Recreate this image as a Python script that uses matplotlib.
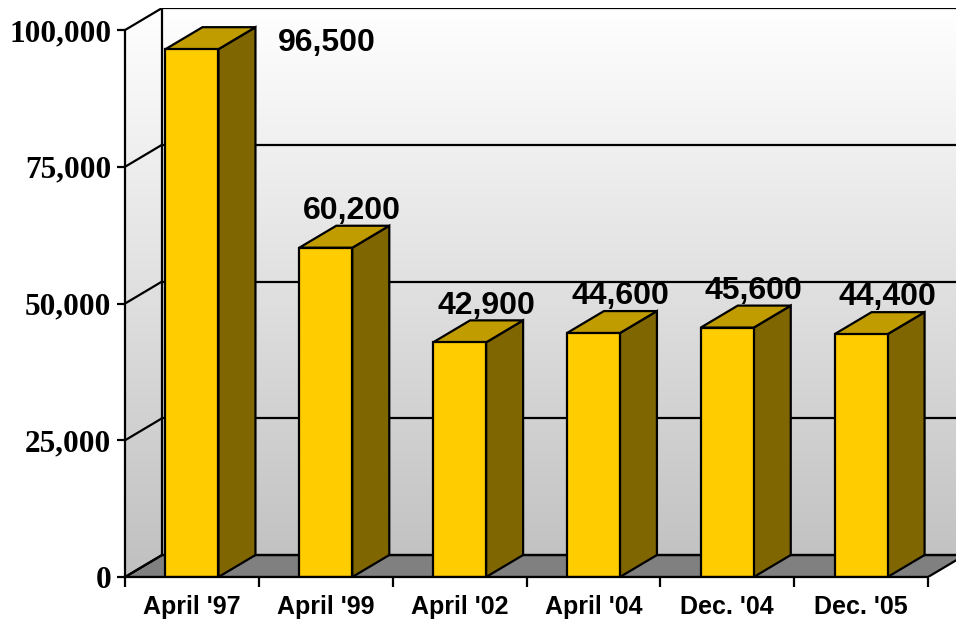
import numpy as np
import matplotlib.pyplot as plt
from matplotlib.patches import Polygon, Rectangle
from matplotlib.colors import LinearSegmentedColormap
from matplotlib.ticker import FuncFormatter

categories = ["April '97", "April '99", "April '02", "April '04", "Dec. '04", "Dec. '05"]
values = [96500, 60200, 42900, 44600, 45600, 44400]
y_ticks = [0, 25000, 50000, 75000, 100000]

# fake 3d: depth offset in data units
dx = 0.2765
dy = 4022
bar_w = 0.396
y_max = 100000
x_max = 6.21
lw = 1.6

fig = plt.figure(figsize=(9.56, 6.23), dpi=100)
ax = fig.add_axes([0.1308, 0.0738, 0.8693, 0.9133])
ax.set_xlim(0, x_max)
ax.set_ylim(0, y_max + dy)

# gradient walls (back + left)
cmap = LinearSegmentedColormap.from_list('wall', ['#c0c0c0', '#ffffff'])
grad = np.linspace(0, 1, 256).reshape(-1, 1)
img = ax.imshow(grad, extent=[0, x_max, 0, y_max + dy], origin='lower',
                aspect='auto', cmap=cmap, zorder=0)
wall = Polygon([(0, 0), (dx, dy), (x_max + 1, dy), (x_max + 1, y_max + dy),
                (dx, y_max + dy), (0, y_max)], closed=True, facecolor='none',
               edgecolor='none', transform=ax.transData)
ax.add_patch(wall)
img.set_clip_path(wall)

# floor
n = len(categories)
floor = Polygon([(0, 0), (n, 0), (n + dx, dy), (x_max + 1, dy), (x_max + 1, dy),
                 (dx, dy)], closed=True, facecolor='#808080', edgecolor='black',
                lw=lw, zorder=1, clip_on=True)
ax.add_patch(floor)

# gridlines on walls
for v in y_ticks:
    ax.plot([0, dx], [v, v + dy], color='black', lw=lw, zorder=1)
    ax.plot([dx, x_max], [v + dy, v + dy], color='black', lw=lw, zorder=1)
ax.plot([dx, dx], [dy, y_max + dy], color='black', lw=lw, zorder=1)

# bars
for i, v in enumerate(values):
    c = i + 0.5
    x0, x1 = c - bar_w / 2, c + bar_w / 2
    side = Polygon([(x1, 0), (x1 + dx, dy), (x1 + dx, v + dy), (x1, v)],
                   facecolor='#806600', edgecolor='black', lw=lw, zorder=3)
    top = Polygon([(x0, v), (x1, v), (x1 + dx, v + dy), (x0 + dx, v + dy)],
                  facecolor='#c09c00', edgecolor='black', lw=lw, zorder=3)
    front = Rectangle((x0, 0), bar_w, v, facecolor='#ffcc00',
                      edgecolor='black', lw=lw, zorder=4)
    ax.add_patch(side)
    ax.add_patch(top)
    ax.add_patch(front)

    label = f'{v:,}'
    ly = v + dy + 2700
    if ly > y_max:
        ax.text(x1 + dx + 0.17, v + 1100, label, ha='left', va='center',
                fontsize=23, fontweight='bold', family='Liberation Sans', zorder=6)
    else:
        ax.text(c + dx / 2 + 0.06, ly, label, ha='center', va='center',
                fontsize=23, fontweight='bold', family='Liberation Sans', zorder=6)

# axes and ticks
for s in ['top', 'right']:
    ax.spines[s].set_visible(False)
ax.spines['left'].set_bounds(0, y_max)
ax.spines['bottom'].set_bounds(0, n)
ax.spines['left'].set_linewidth(lw)
ax.spines['bottom'].set_linewidth(lw)
ax.spines['left'].set_zorder(5)
ax.spines['bottom'].set_zorder(5)

ax.set_yticks(y_ticks)
ax.yaxis.set_major_formatter(FuncFormatter(lambda v, p: f'{int(v):,}'))
ax.tick_params(axis='y', length=6, width=lw, pad=4)
for t in ax.get_yticklabels():
    t.set_fontfamily('Liberation Serif')
    t.set_fontweight('bold')
    t.set_fontsize(22.5)

ax.set_xticks(np.arange(n + 1))
ax.set_xticklabels([])
ax.set_xticks(np.arange(n) + 0.5, minor=True)
ax.set_xticklabels(categories, minor=True, fontsize=18, fontweight='bold',
                   family='Liberation Sans')
ax.tick_params(axis='x', which='major', length=7, width=lw)
ax.tick_params(axis='x', which='minor', length=0, pad=13)

fig.savefig('out.png', dpi=100)
